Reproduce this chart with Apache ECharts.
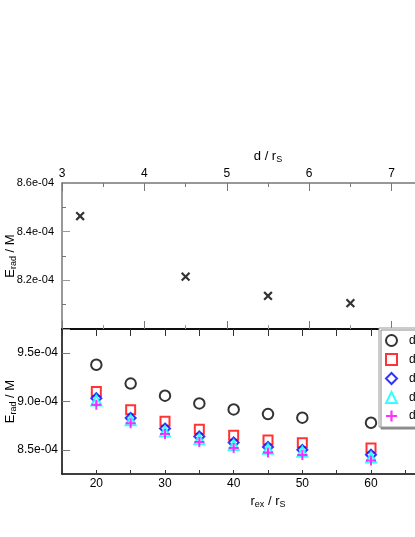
<!DOCTYPE html>
<html>
<head>
    <meta charset="utf-8"/>
    <title>E_rad / M</title>
    <script src="https://cdn.jsdelivr.net/npm/echarts@6/dist/echarts.min.js"></script>
    <style>
        html, body { margin: 0; padding: 0; background: #fff; }
        #chart { width: 415px; height: 537px; }
    </style>
</head>
<body>
<div id="chart"></div>
<script>
    // 上图: d / rS
    var dTop = [3.22, 4.5, 5.5, 6.5];
    var eTop = [8.464e-4, 8.215e-4, 8.136e-4, 8.106e-4];

    // 下图: r_ex / rS
    var rEx = [20, 25, 30, 35, 40, 45, 50, 60];
    var legendNames = ['d = 3.25', 'd = 4.5', 'd = 5.5', 'd = 6.5', 'd = 7.5'];
    var eCircle   = [9.380e-4, 9.185e-4, 9.060e-4, 8.980e-4, 8.918e-4, 8.870e-4, 8.833e-4, 8.780e-4];
    var eSquare   = [9.103e-4, 8.915e-4, 8.795e-4, 8.713e-4, 8.650e-4, 8.603e-4, 8.572e-4, 8.520e-4];
    var eDiamond  = [9.034e-4, 8.830e-4, 8.720e-4, 8.638e-4, 8.576e-4, 8.530e-4, 8.500e-4, 8.449e-4];
    var eTriangle = [9.010e-4, 8.805e-4, 8.690e-4, 8.610e-4, 8.550e-4, 8.510e-4, 8.480e-4, 8.420e-4];
    var ePlus     = [8.966e-4, 8.774e-4, 8.664e-4, 8.582e-4, 8.520e-4, 8.473e-4, 8.446e-4, 8.390e-4];

    var yMajorBottom = [8.5e-4, 9.0e-4, 9.5e-4];
    var yMinorBottom = [8.25e-4, 8.75e-4, 9.25e-4, 9.75e-4];

    var FONT = 'Liberation Sans, Arial, sans-serif';
    var PLUS = 'path://M4,0H6V4H10V6H6V10H4V6H0V4H4Z';

    function pairs(xs, ys) {
        var out = [];
        for (var i = 0; i < xs.length; i++) out.push([xs[i], ys[i]]);
        return out;
    }
    function expFmt(v) {
        return v.toExponential(1).replace(/e([+-])(\d)$/, 'e$10$2');
    }

    var nameRich = {
        n: { fontSize: 13, fontFamily: FONT, color: '#000' },
        s: { fontSize: 9, fontFamily: FONT, color: '#000', padding: [7, 0, 0, 0] }
    };

    var myChart = echarts.init(document.getElementById('chart'));
    var option = {
        animation: false,
        backgroundColor: '#fff',
        textStyle: { fontFamily: FONT },
        grid: [
            { left: 62, top: 183, width: 412, height: 146, outerBoundsMode: 'none', containLabel: false },
            { left: 62, top: 329, width: 412, height: 145, outerBoundsMode: 'none', containLabel: false }
        ],
        legend: {
            data: legendNames,
            orient: 'vertical',
            left: 379,
            top: 328,
            padding: [6, 6, 5, 6],
            itemWidth: 11,
            itemHeight: 11,
            itemGap: 6,
            backgroundColor: '#fff',
            borderColor: '#999',
            borderWidth: 1,
            shadowColor: '#888',
            shadowOffsetX: 2,
            shadowOffsetY: 2,
            shadowBlur: 0,
            textStyle: { fontSize: 12, color: '#000', fontFamily: FONT, padding: [0, 0, 0, 7] }
        },
        xAxis: [
            {
                gridIndex: 0, type: 'value', position: 'top',
                min: 3, max: 8, interval: 1,
                name: '{n|d / r}{s|S}',
                nameLocation: 'middle', nameGap: 19, nameMoveOverlap: false,
                nameTextStyle: { rich: nameRich },
                axisLine: { lineStyle: { color: '#777', width: 1.5 } },
                axisTick: { inside: true, length: 8, lineStyle: { color: '#777' } },
                minorTick: { show: true, splitNumber: 2, length: 4, lineStyle: { color: '#777' } },
                axisLabel: { fontSize: 12, color: '#000', margin: 3, showMaxLabel: false },
                splitLine: { show: false }
            },
            {
                gridIndex: 0, type: 'value', position: 'bottom',
                min: 3, max: 8, interval: 1,
                axisLine: { lineStyle: { color: '#000', width: 1.5 } },
                axisTick: { inside: true, length: 8, lineStyle: { color: '#777' } },
                minorTick: { show: true, splitNumber: 2, length: 4, lineStyle: { color: '#999' } },
                axisLabel: { show: false },
                splitLine: { show: false }
            },
            {
                gridIndex: 1, type: 'value', position: 'bottom',
                min: 15, max: 75, interval: 5,
                name: '{n|r}{s|ex}{n| / r}{s|S}',
                nameLocation: 'middle', nameGap: 19, nameMoveOverlap: false,
                nameTextStyle: { rich: nameRich },
                axisLine: { lineStyle: { color: '#000', width: 1.5 } },
                axisTick: { inside: true, length: 4, lineStyle: { color: '#333' } },
                axisLabel: {
                    fontSize: 12, color: '#000', margin: 4,
                    formatter: function (v) { return v % 10 === 0 ? String(v) : ''; }
                },
                splitLine: { show: false }
            },
            {
                gridIndex: 1, type: 'value', position: 'top',
                min: 15, max: 75, interval: 5,
                axisLine: { lineStyle: { color: '#000', width: 1.5 } },
                axisTick: { inside: true, length: 7, lineStyle: { color: '#333' } },
                axisLabel: { show: false },
                splitLine: { show: false }
            }
        ],
        yAxis: [
            {
                gridIndex: 0, type: 'value',
                min: 8.0e-4, max: 8.6e-4, interval: 0.2e-4,
                name: '{n|E}{s|rad}{n| / M}',
                nameLocation: 'middle', nameGap: 44, nameMoveOverlap: false,
                nameTextStyle: { rich: nameRich },
                axisLine: { lineStyle: { color: '#777', width: 1.5 } },
                axisTick: { inside: true, length: 8, lineStyle: { color: '#999' } },
                minorTick: { show: true, splitNumber: 2, length: 4, lineStyle: { color: '#777' } },
                axisLabel: {
                    fontSize: 11, color: '#000', margin: 8, showMinLabel: false,
                    formatter: expFmt
                },
                splitLine: { show: false }
            },
            {
                gridIndex: 1, type: 'value',
                min: 8.25e-4, max: 9.75e-4, interval: 0.25e-4,
                name: '{n|E}{s|rad}{n| / M}',
                nameLocation: 'middle', nameGap: 44, nameMoveOverlap: false,
                nameTextStyle: { rich: nameRich },
                axisLine: { lineStyle: { color: '#000', width: 1.5 } },
                axisTick: { inside: true, length: 8, customValues: yMajorBottom, lineStyle: { color: '#777' } },
                axisLabel: {
                    fontSize: 12, color: '#000', margin: 4,
                    formatter: function (v) {
                        return Math.round(v / 0.25e-4) % 2 === 0 ? expFmt(v) : '';
                    }
                },
                splitLine: { show: false }
            },
            {
                // 下图的次刻度
                gridIndex: 1, type: 'value',
                min: 8.25e-4, max: 9.75e-4, interval: 0.25e-4,
                axisLine: { show: false },
                axisTick: { inside: true, length: 4, customValues: yMinorBottom, lineStyle: { color: '#777' } },
                axisLabel: { show: false },
                splitLine: { show: false }
            }
        ],
        series: [
            {
                type: 'scatter', xAxisIndex: 0, yAxisIndex: 0,
                data: pairs(dTop, eTop),
                symbol: PLUS, symbolSize: 11, symbolRotate: 45,
                itemStyle: { color: '#000' }
            },
            {
                name: legendNames[0], type: 'scatter', xAxisIndex: 2, yAxisIndex: 1,
                data: pairs(rEx, eCircle),
                symbol: 'emptyCircle', symbolSize: 10.5,
                itemStyle: { color: '#000', borderColor: '#000', borderWidth: 2 }
            },
            {
                name: legendNames[1], type: 'scatter', xAxisIndex: 2, yAxisIndex: 1,
                data: pairs(rEx, eSquare),
                symbol: 'emptyRect', symbolSize: 9,
                itemStyle: { color: '#ff0000', borderColor: '#ff0000', borderWidth: 2 }
            },
            {
                name: legendNames[2], type: 'scatter', xAxisIndex: 2, yAxisIndex: 1,
                data: pairs(rEx, eDiamond),
                symbol: 'emptyDiamond', symbolSize: 10,
                itemStyle: { color: '#0000ff', borderColor: '#0000ff', borderWidth: 2 }
            },
            {
                name: legendNames[3], type: 'scatter', xAxisIndex: 2, yAxisIndex: 1,
                data: pairs(rEx, eTriangle),
                symbol: 'emptyTriangle', symbolSize: 10,
                itemStyle: { color: '#00ffff', borderColor: '#00ffff', borderWidth: 2 }
            },
            {
                name: legendNames[4], type: 'scatter', xAxisIndex: 2, yAxisIndex: 1,
                data: pairs(rEx, ePlus),
                symbol: PLUS, symbolSize: 10,
                itemStyle: { color: '#ff00ff' }
            }
        ]
    };
    myChart.setOption(option);
</script>
</body>
</html>
